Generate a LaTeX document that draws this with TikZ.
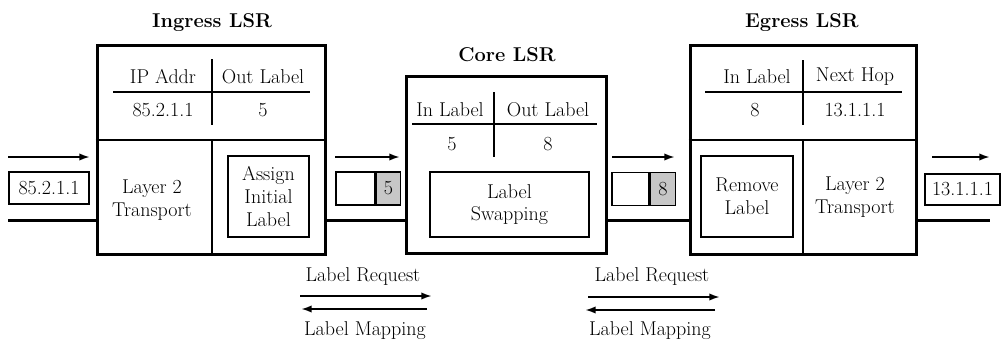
\documentclass[tikz,border=0pt]{standalone}
\usepackage{fontspec}
\usetikzlibrary{arrows.meta}

\newcommand\lsrfont{\fontsize{15}{17}\selectfont}
\newcommand\ttlfont{\fontsize{15}{18}\selectfont\bfseries}

\tikzset{every picture/.style={line width=0.75pt}}
\tikzset{
  lsr/.style={draw, line width=2.25pt, inner sep=0pt},
  inbox/.style={draw, line width=1.1pt, inner sep=0pt, align=center, font=\lsrfont},
  txt/.style={inner sep=0pt, align=center, font=\lsrfont},
  ttl/.style={inner sep=0pt, font=\ttlfont},
  pkt/.style={draw, line width=1.1pt, inner sep=0pt, font=\lsrfont},
  lbl/.style={pkt, fill=black!22},
  rule/.style={line width=1.1pt},
  link/.style={line width=2.25pt},
  flow/.style={line width=1.5pt, -{Latex[length=8pt,width=5.5pt]}},
}

\begin{document}
\begin{tikzpicture}[x=0.75pt,y=0.75pt,yscale=-1,xscale=1]
\useasboundingbox (0,0) rectangle (1007,343);

%Shape: Rectangle [ingress]
\node[lsr, minimum width=171pt, minimum height=156.75pt] (ingress) at (211,150) {};
%Shape: Rectangle [core]
\node[lsr, minimum width=150pt, minimum height=132.75pt] (core) at (506,164.5) {};
%Shape: Rectangle [egress]
\node[lsr, minimum width=169.5pt, minimum height=156.75pt] (egress) at (803,149.5) {};

% Titles
\node[ttl] (ingressTitle) at (212,23) {Ingress LSR};
\node[ttl] (coreTitle) at (507,55) {Core LSR};
\node[ttl] (egressTitle) at (802,23) {Egress LSR};

%Straight Lines: ingress dividers
\draw[rule] (ingress.west |- 0,140) -- (ingress.east |- 0,140) ;
\draw[rule] (212,140) -- (212,0 |- ingress.south) ;
%Straight Lines: egress dividers
\draw[rule] (egress.west |- 0,140) -- (egress.east |- 0,140) ;
\draw[rule] (803,140) -- (803,0 |- egress.south) ;

%Ingress table
\node[txt] (inAddr) at (163,77) {IP Addr};
\node[txt] (inOut) at (263,77) {Out Label};
\node[txt] (inAddrVal) at (163,110) {85.2.1.1};
\node[txt] (inOutVal) at (263,110) {5};
\draw[rule] (113,92) -- (310,92) ;
\draw[rule] (212,59) -- (212,125) ;
% Text Node
\node[txt] (inTransport) at (152,200) {Layer 2\\Transport};
%Shape: Rectangle
\node[inbox, minimum width=60.75pt, minimum height=60.75pt] (assign) at (268.5,196.5) {Assign\\Initial\\Label};

%Core table
\node[txt] (coreIn) at (450,110) {In Label};
\node[txt] (coreOut) at (548,110) {Out Label};
\node[txt] (coreInVal) at (452,144) {5};
\node[txt] (coreOutVal) at (548,144) {8};
\draw[rule] (412,124) -- (597,124) ;
\draw[rule] (494,92) -- (494,157) ;
%Shape: Rectangle
\node[inbox, minimum width=119.25pt, minimum height=48.75pt] (swap) at (509.5,204.5) {Label\\Swapping};

%Egress table
\node[txt] (egIn) at (757,77) {In Label};
\node[txt] (egHop) at (855,77) {Next Hop};
\node[txt] (egInVal) at (755,110) {8};
\node[txt] (egHopVal) at (855,110) {13.1.1.1};
\draw[rule] (705,92) -- (902,92) ;
\draw[rule] (803,60) -- (803,125) ;
%Shape: Rectangle
\node[inbox, minimum width=69pt, minimum height=60.75pt] (remove) at (747,196.5) {Remove\\Label};
% Text Node
\node[txt] (egTransport) at (855,197) {Layer 2\\Transport};

%Packets
\node[pkt, minimum width=60pt, minimum height=24pt] (pktIn) at (49,188) {85.2.1.1};
\node[pkt, minimum width=29.25pt, minimum height=24.75pt] (pktA) at (355.5,188.5) {};
\node[lbl, minimum width=18pt, minimum height=24.75pt, anchor=west] (pktAlbl) at (pktA.east) {5};
\node[pkt, minimum width=27.75pt, minimum height=24.75pt] (pktB) at (630.5,189) {};
\node[lbl, minimum width=18.75pt, minimum height=24.75pt, anchor=west] (pktBlbl) at (pktB.east) {8};
\node[pkt, minimum width=56.25pt, minimum height=23.25pt] (pktOut) at (962.5,189.5) {13.1.1.1};

%Links
\coordinate (linkIn) at (8,220);
\coordinate (linkOut) at (990,220);
\draw[link] (linkIn) -- (ingress.west |- linkIn) ;
\draw[link] (ingress.east |- linkIn) -- (core.west |- linkIn) ;
\draw[link] (core.east |- linkIn) -- (egress.west |- linkIn) ;
\draw[link] (egress.east |- linkOut) -- (linkOut) ;

%Flow arrows
\draw[flow] (8,157) -- (90,157) ;
\draw[flow] (335,157) -- (400,157) ;
\draw[flow] (612,157) -- (675,157) ;
\draw[flow] (932,157) -- (990,157) ;

%Signalling
\node[txt] (req1) at (363,277) {Label Request};
\node[txt] (map1) at (365,331) {Label Mapping};
\draw[flow] (300,296) -- (432,296) ;
\draw[flow] (427,309) -- (301,309) ;
\node[txt] (req2) at (652,277) {Label Request};
\node[txt] (map2) at (650,331) {Label Mapping};
\draw[flow] (588,297) -- (720,297) ;
\draw[flow] (715,310) -- (585,310) ;

\end{tikzpicture}
\end{document}
